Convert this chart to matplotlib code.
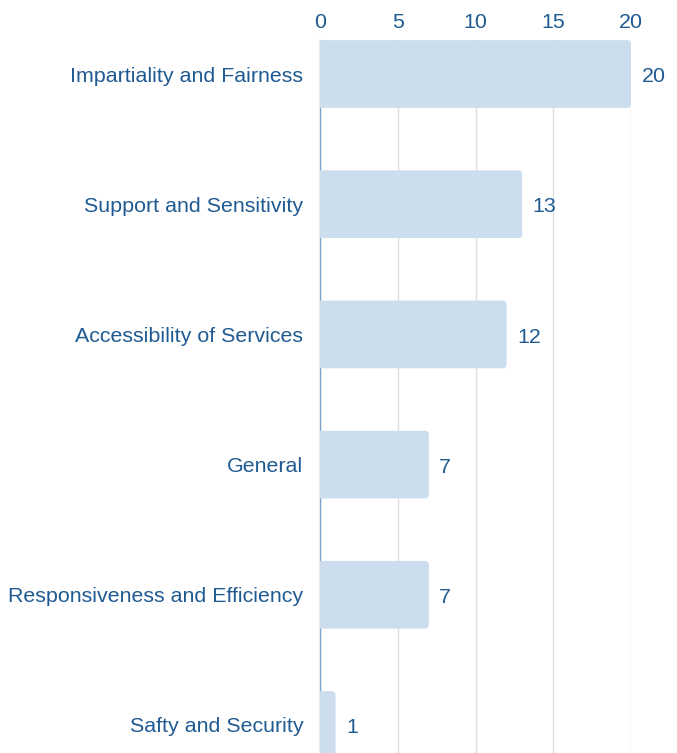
import matplotlib
matplotlib.use("Agg")
import matplotlib.pyplot as plt
from matplotlib.patches import FancyBboxPatch

categories = ["Impartiality and Fairness", "Support and Sensitivity",
              "Accessibility of Services", "General",
              "Responsiveness and Efficiency", "Safty and Security"]
counts = [20, 13, 12, 7, 7, 1]
ticks = [0, 5, 10, 15, 20]

TEXT = "#1f5a92"
BAR = "#ccdded"
GRID = "#dedede"
AXIS = "#7aa3cc"
FS = 15.4

plt.rcParams["font.family"] = ["Liberation Sans", "DejaVu Sans"]

W, H = 677, 753
fig = plt.figure(figsize=(W / 100, H / 100), dpi=100)
left, right = 320 / W, 631 / W
top_px = 40
ax = fig.add_axes([left, 0, right - left, 1 - top_px / H])

px_per_cat = 130.2
y0 = 74
ax.set_ylim((H - y0) / px_per_cat, (top_px - y0) / px_per_cat)
ax.set_xlim(0, 20)

ypos = list(range(len(categories)))
bar_h = 0.52
bars = ax.barh(ypos, counts, height=bar_h, color=BAR, zorder=2)

px_per_x = (631 - 320) / 20
r_px = 4
for b in bars:
    x, y = b.get_x(), b.get_y()
    w, h = b.get_width(), b.get_height()
    b.set_visible(False)
    patch = FancyBboxPatch((x - 1, y), w + 1, h,
                           boxstyle=f"round,pad=0,rounding_size={r_px / px_per_x}",
                           mutation_aspect=px_per_x / px_per_cat,
                           facecolor=BAR, edgecolor="none", zorder=2)
    ax.add_patch(patch)

for yi, v in zip(ypos, counts):
    ax.annotate(str(v), (v, yi), xytext=(7.5, -2), textcoords="offset points",
                ha="left", va="center", color=TEXT, fontsize=FS,
                annotation_clip=False)

ax.set_yticks(ypos)
ax.set_yticklabels(categories, color=TEXT, fontsize=FS)
ax.set_xticks(ticks)
ax.xaxis.tick_top()
ax.tick_params(axis="x", length=0, pad=6, labelcolor=TEXT, labelsize=FS)
ax.tick_params(axis="y", length=0, pad=12)
ax.grid(axis="x", color=GRID, linewidth=1, zorder=0.5)
ax.grid(axis="y", visible=False)
for s in ["top", "right", "bottom"]:
    ax.spines[s].set_visible(False)
ax.spines["left"].set_color(AXIS)
ax.spines["left"].set_linewidth(1)
ax.spines["left"].set_zorder(1.8)

fig.savefig("out.png", dpi=100)
